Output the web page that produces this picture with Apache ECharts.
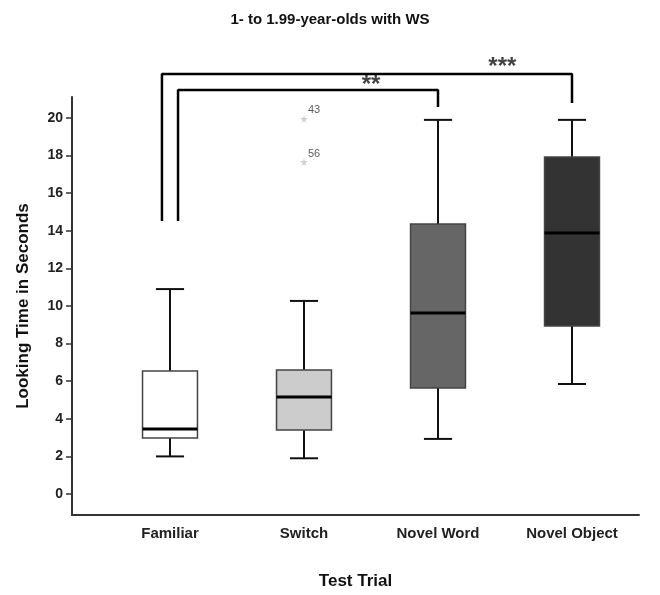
<!DOCTYPE html>
<html>
<head>
<meta charset="utf-8">
<script src="https://cdn.jsdelivr.net/npm/echarts@6/dist/echarts.min.js"></script>
<style>
  html, body { margin: 0; padding: 0; background: #fff; }
  #chart { width: 660px; height: 595px; }
</style>
</head>
<body>
<div id="chart"></div>
<script>
// categories on the x axis (positions 1..4 on a value axis)
const categories = ['Familiar', 'Switch', 'Novel Word', 'Novel Object']
// [min, Q1, median, Q3, max]
const boxStats = [
    [2.0, 2.98, 3.46, 6.54, 10.9],
    [1.9, 3.4, 5.16, 6.6, 10.27],
    [2.93, 5.64, 9.63, 14.36, 19.9],
    [5.85, 8.94, 13.88, 17.93, 19.9]
]
const boxColors = ['#ffffff', '#cccccc', '#666666', '#333333']
// outliers: [category position, value, case label]
const outliers = [
    [2, 19.95, '43'],
    [2, 17.66, '56']
]
const yTicks = [0, 2, 4, 6, 8, 10, 12, 14, 16, 18, 20]
// significance brackets: leg points [x, y]
const bracketOuter = [[0.94, 14.52], [0.94, 22.34], [4, 22.34], [4, 20.8]]
const bracketInner = [[1.06, 14.52], [1.06, 21.49], [3, 21.49], [3, 20.59]]
const sigMarks = [
    [2.5, 21.75, '**'],
    [3.48, 22.7, '***']
]

const font = 'Liberation Sans, Arial, sans-serif'
const boxWidth = 0.41
const capWidth = 0.21
const starPath = 'path://M50,0 L61,35 L98,35 L68,57 L79,91 L50,70 L21,91 L32,57 L2,35 L39,35 Z'

const renderBox = function (params, api) {
    const x = api.value(0)
    const lo = api.coord([x, api.value(1)])
    const q1 = api.coord([x, api.value(2)])
    const med = api.coord([x, api.value(3)])
    const q3 = api.coord([x, api.value(4)])
    const hi = api.coord([x, api.value(5)])
    const half = api.size([boxWidth, 0])[0] / 2
    const cap = api.size([capWidth, 0])[0] / 2
    const cx = lo[0]
    const whisker = { stroke: '#111', lineWidth: 2 }
    return {
        type: 'group',
        children: [
            { type: 'line', shape: { x1: cx, y1: lo[1], x2: cx, y2: q1[1] }, style: whisker },
            { type: 'line', shape: { x1: cx, y1: q3[1], x2: cx, y2: hi[1] }, style: whisker },
            { type: 'line', shape: { x1: cx - cap, y1: lo[1], x2: cx + cap, y2: lo[1] }, style: whisker },
            { type: 'line', shape: { x1: cx - cap, y1: hi[1], x2: cx + cap, y2: hi[1] }, style: whisker },
            {
                type: 'rect',
                shape: { x: cx - half, y: q3[1], width: half * 2, height: q1[1] - q3[1] },
                style: { fill: boxColors[params.dataIndex], stroke: '#444', lineWidth: 1.5 }
            },
            { type: 'line', shape: { x1: cx - half, y1: med[1], x2: cx + half, y2: med[1] }, style: { stroke: '#000', lineWidth: 3 } }
        ]
    }
}

const bracketSeries = function (data) {
    return {
        type: 'line',
        data,
        symbol: 'none',
        clip: false,
        silent: true,
        lineStyle: { color: '#000', width: 2.5 }
    }
}

const chart = echarts.init(document.getElementById('chart'))
chart.setOption({
    animation: false,
    textStyle: { fontFamily: font },
    title: {
        text: '1- to 1.99-year-olds with WS',
        left: 'center',
        top: 7,
        textStyle: { fontSize: 15, fontWeight: 'bold', color: '#111', fontFamily: font }
    },
    grid: { left: 72, right: 21, top: 97, bottom: 80 },
    xAxis: {
        type: 'value',
        min: 0.2687,
        max: 4.5,
        name: 'Test Trial',
        nameLocation: 'middle',
        nameGap: 58,
        nameTextStyle: { fontSize: 17, fontWeight: 'bold', color: '#111' },
        axisLine: { onZero: false, lineStyle: { color: '#333', width: 2 } },
        axisTick: { show: false },
        splitLine: { show: false },
        axisLabel: {
            customValues: [1, 2, 3, 4],
            formatter: v => categories[Math.round(v) - 1],
            fontSize: 15,
            fontWeight: 'bold',
            color: '#222',
            margin: 11
        }
    },
    yAxis: {
        type: 'value',
        min: -1.117,
        max: 21.117,
        name: 'Looking Time in Seconds',
        nameLocation: 'middle',
        nameGap: 40,
        nameTextStyle: { fontSize: 17, fontWeight: 'bold', color: '#111' },
        axisLine: { show: true, onZero: false, lineStyle: { color: '#333', width: 2 } },
        axisTick: { show: true, customValues: yTicks, length: 6, lineStyle: { color: '#333', width: 1.5 } },
        splitLine: { show: false },
        axisLabel: {
            customValues: yTicks,
            fontSize: 14,
            fontWeight: 'bold',
            color: '#222',
            margin: 9
        }
    },
    series: [
        {
            type: 'custom',
            renderItem: renderBox,
            data: boxStats.map((s, i) => [i + 1, ...s]),
            encode: { x: 0, y: [1, 2, 3, 4, 5] },
            silent: true
        },
        {
            type: 'scatter',
            data: outliers.map(o => ({ value: [o[0], o[1]], name: o[2] })),
            symbol: starPath,
            symbolSize: 8,
            itemStyle: { color: '#c4c4c4' },
            label: {
                show: true,
                formatter: p => p.name,
                position: [8, -10],
                fontSize: 11,
                color: '#333'
            }
        },
        bracketSeries(bracketOuter),
        bracketSeries(bracketInner),
        {
            type: 'scatter',
            data: sigMarks.map(m => ({ value: [m[0], m[1]], name: m[2] })),
            symbolSize: 0,
            clip: false,
            silent: true,
            label: {
                show: true,
                position: 'inside',
                formatter: p => p.name,
                fontSize: 24,
                fontWeight: 'bold',
                color: '#111'
            }
        }
    ]
})
</script>
</body>
</html>
